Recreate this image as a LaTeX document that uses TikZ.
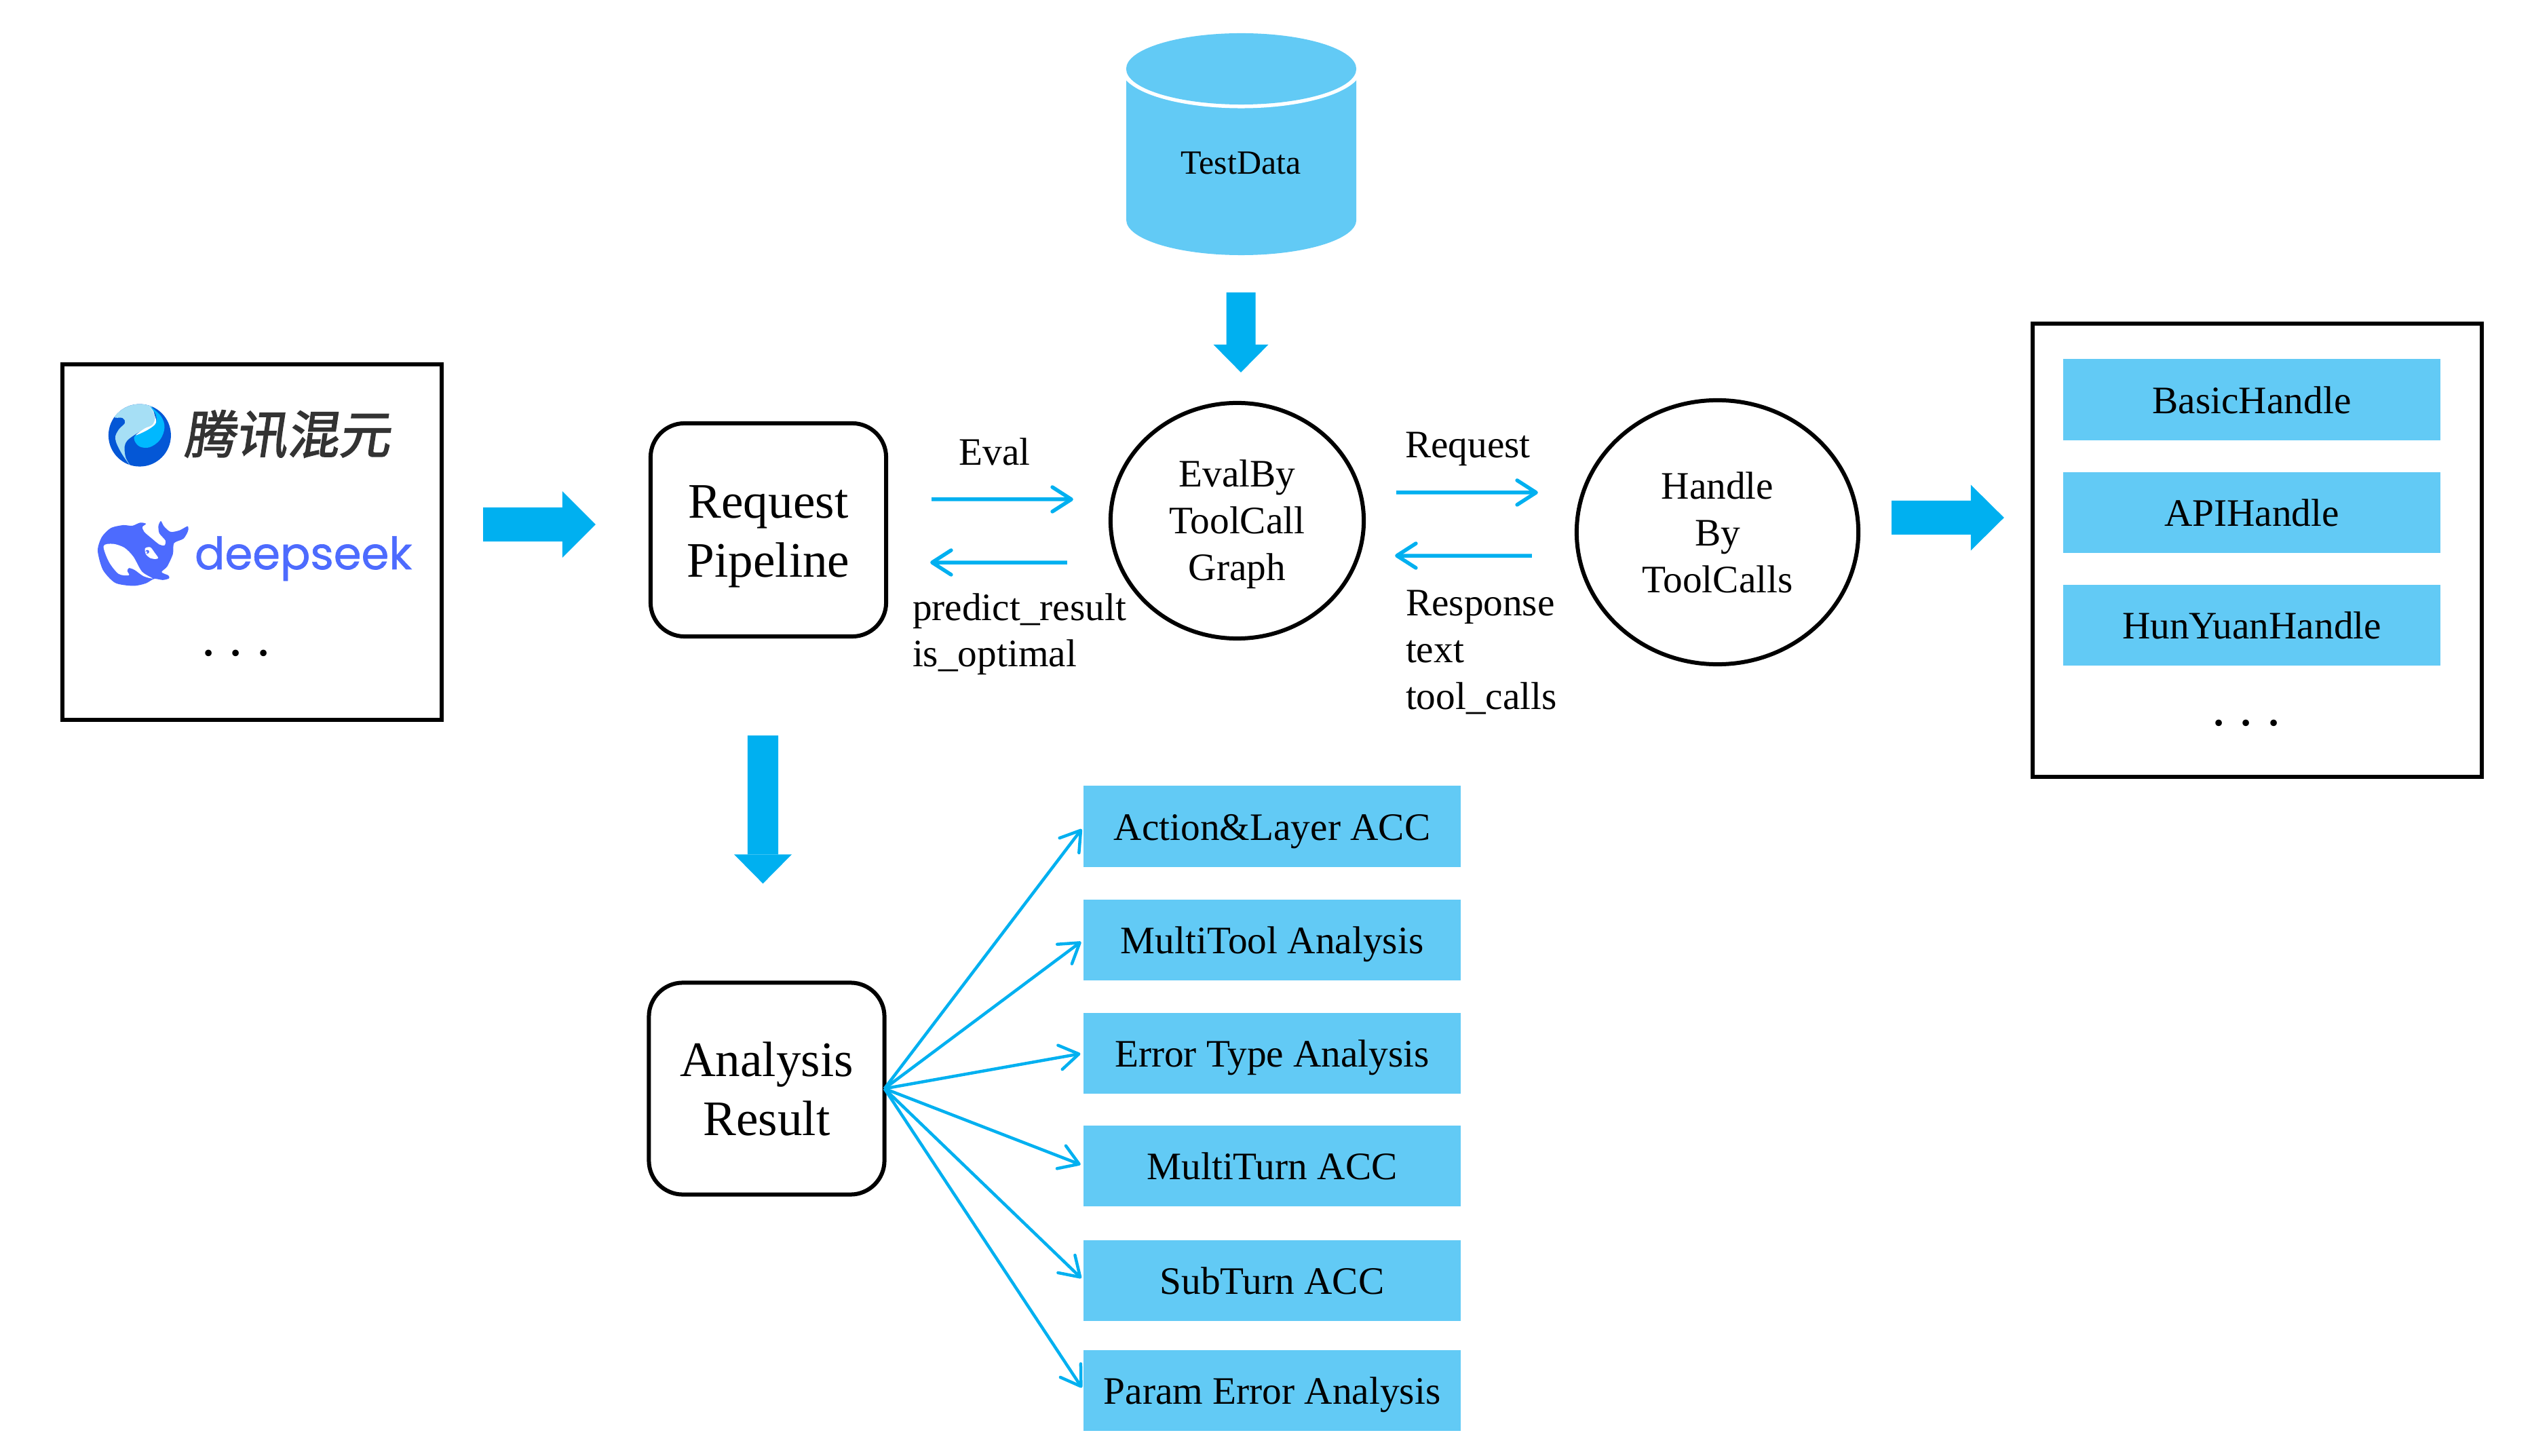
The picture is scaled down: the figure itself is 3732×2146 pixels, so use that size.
\documentclass[tikz,border=0pt]{standalone}
\usepackage{fontspec}
\usepackage{xcolor}
\setmainfont{Liberation Serif}
\newfontfamily\cjk[FakeSlant=0.15,FakeBold=2]{Noto Sans CJK SC}
\newfontfamily\logofont[FakeBold=1]{Poppins}
\usetikzlibrary{shapes.geometric, arrows.meta, positioning}
\definecolor{boxblue}{HTML}{62CAF5}
\definecolor{arrowblue}{HTML}{00B0F0}
\definecolor{seekblue}{HTML}{4D6BFE}

\begin{document}
\begin{tikzpicture}[
            x=0.01cm, y=-0.01cm,
            every node/.style={outer sep=0pt, inner sep=0pt},
            plain/.style={font=\fontsize{16.3}{19.6}\selectfont},
            big/.style={font=\fontsize{20.8}{24.75}\selectfont},
            frame/.style={rectangle, draw, line width=0.065cm, minimum width=5.59cm},
            proc/.style={rectangle, draw, line width=0.06cm, rounded corners=0.5cm, minimum width=3.47cm, align=center, big},
            roundnode/.style={ellipse, draw, line width=0.06cm, align=center, plain},
            handlebox/.style={rectangle, fill=boxblue, minimum width=5.55cm, minimum height=1.19cm, text height=0.51cm, text depth=0.11cm, plain},
            note/.style={anchor=base west, align=left, plain},
            dots/.style={anchor=base, font=\fontsize{23}{23}\selectfont\frenchspacing},
            thinarrow/.style={draw=arrowblue, line width=0.055cm, -{Straight Barb[length=0.28cm, width=0.36cm, round]}},
            fanarrow/.style={thinarrow, line width=0.045cm, shorten >=0.05cm},
            bigarrow/.style={draw=arrowblue, line width=#1}
        ]
        \useasboundingbox (0,0) rectangle (3732,2146);

        % Models
        \node[frame, minimum height=5.24cm] (models) at (371.5,799) {};
        \begin{scope}[shift={(150,590)}, x=0.00333cm, y=-0.00333cm]
            \fill[color={rgb,255:red,4;green,87;blue,214}] (168,155) circle (0.46cm);
            \begin{scope}
                \clip (168,155) circle (0.46cm);
                \fill[color={rgb,255:red,166;green,223;blue,245}] plot[smooth cycle, tension=0.6] coordinates {(55,72) (100,10) (205,15) (235,70) (225,110) (150,150) (105,190) (105,250) (130,295) (85,230) (60,170) (75,130) (103,100) (92,78)};
                \fill[color={rgb,255:red,0;green,184;blue,255}] plot[smooth cycle, tension=0.6] coordinates {(215,28) (262,70) (278,120) (258,175) (212,208) (168,205) (145,178) (150,155) (205,130) (240,100) (238,60)};
                \fill[white] plot[smooth cycle, tension=0.6] coordinates {(212,28) (232,62) (240,100) (205,130) (150,155) (190,125) (225,108) (235,72)};
            \end{scope}
        \end{scope}
        \node[anchor=center, text=black!80] (hunyuan) at (423,640) {\fontsize{21.6}{21.6}\cjk 腾讯混元};
        \begin{scope}[shift={(140,760)}, x=0.00333cm, y=-0.00333cm]
            \fill[seekblue] plot[smooth cycle, tension=0.45] coordinates {(12,155) (30,95) (70,55) (125,42) (165,45) (200,31) (226,36) (210,50) (218,72) (250,100) (285,128) (308,132) (312,110) (285,78) (281,45) (292,24) (306,48) (335,72) (375,65) (410,47) (412,68) (392,102) (350,122) (345,170) (320,225) (295,250) (325,265) (328,278) (300,285) (262,280) (225,300) (170,311) (90,298) (35,240)};
            \fill[white] plot[smooth cycle, tension=0.5] coordinates {(38,135) (80,125) (130,142) (170,182) (208,248) (255,278) (215,268) (175,240) (150,232) (143,245) (150,264) (105,258) (62,205)};
            \fill[white] plot[smooth cycle, tension=0.5] coordinates {(222,145) (245,140) (265,165) (280,187) (268,192) (245,188) (225,170)};
            \fill[seekblue] (232,160) circle (0.027cm);
            \fill[white] (228,162) circle (0.013cm);
        \end{scope}
        \node[anchor=base west, text=seekblue] (deepseek) at (287,839) {\fontsize{18.7}{18.7}\logofont deepseek};
        \node[dots] (moremodels) at (348,966) {. . .};

        % Pipeline
        \node[proc, minimum height=3.14cm] (pipe) at (1132.5,781) {\rule{0pt}{0.67cm}Request\\Pipeline};
        \node[proc, minimum height=3.12cm] (result) at (1130,1604.5) {Analysis\\Result};

        % Test data
        \fill[boxblue] (1660,101) -- (1660,324) arc [start angle=180, end angle=360, x radius=1.695cm, y radius=0.52cm] -- (1999,101) -- cycle;
        \fill[white] (1829.5,101.5) ellipse [x radius=1.77cm, y radius=0.58cm];
        \fill[boxblue] (1829.5,101.5) ellipse [x radius=1.695cm, y radius=0.525cm];
        \node[font=\fontsize{14.2}{14.2}\selectfont, anchor=base] (testdata) at (1829,257) {TestData};
        \coordinate (datafoot) at (1829,376);

        % Graph and handler
        \node[roundnode, minimum width=3.73cm, minimum height=3.47cm] (evalg) at (1823.5,767.5) {\rule{0pt}{0.51cm}EvalBy\\ToolCall\\Graph};
        \node[roundnode, minimum width=4.15cm, minimum height=3.89cm] (handle) at (2531.5,784.5) {Handle\\By\\ToolCalls};

        % Handlers
        \node[frame, minimum width=6.62cm, minimum height=6.68cm] (handlers) at (3327,811) {};
        \node[handlebox] (basic) at (3319,589) {BasicHandle};
        \node[handlebox, below=0.47cm of basic] (api) {APIHandle};
        \node[handlebox, below=0.47cm of api] (hunyuanh) {HunYuanHandle};
        \node[dots] (morehandlers) at (3311,1070) {. . .};

        % Analysis items
        \node[handlebox] (acc) at (1875,1218) {Action\&Layer ACC};
        \node[handlebox, below=0.48cm of acc] (multitool) {MultiTool Analysis};
        \node[handlebox, below=0.48cm of multitool] (errtype) {Error Type Analysis};
        \node[handlebox, below=0.47cm of errtype] (multiturn) {MultiTurn ACC};
        \node[handlebox, below=0.50cm of multiturn] (subturn) {SubTurn ACC};
        \node[handlebox, below=0.43cm of subturn] (paramerr) {Param Error Analysis};

        % Labels
        \node[anchor=base, plain] (evallabel) at (1466,686) {Eval};
        \node[note] (predictlabel) at (1345,983) {predict\_result\\is\_optimal};
        \node[note] (requestlabel) at (2071,675) {Request};
        \node[note] (responselabel) at (2072,1045) {Response\\text\\tool\_calls};

        % Connections
        \draw[thinarrow] ([xshift=0.67cm,yshift=0.45cm]pipe.east) -- ([xshift=-0.55cm,yshift=0.315cm]evalg.west);
        \draw[thinarrow] ([xshift=-0.64cm,yshift=-0.615cm]evalg.west) -- ([xshift=0.65cm,yshift=-0.48cm]pipe.east);
        \draw[thinarrow] ([xshift=0.48cm,yshift=0.415cm]evalg.east) -- ([xshift=-0.57cm,yshift=0.585cm]handle.west);
        \draw[thinarrow] ([xshift=-0.66cm,yshift=-0.345cm]handle.west) -- ([xshift=0.46cm,yshift=-0.515cm]evalg.east);
        \foreach \target in {acc, multitool, errtype, multiturn, subturn, paramerr}
            \draw[fanarrow] (result.east) -- (\target.west);

        % Block arrows
        \draw[bigarrow=0.5cm, -{Triangle[length=0.49cm, width=0.98cm, line width=0pt]}, shorten <=0.61cm, shorten >=0.81cm] ([yshift=0.26cm]models.east) -- ([yshift=0.08cm]pipe.west);
        \draw[bigarrow=0.5cm, -{Triangle[length=0.49cm, width=0.97cm, line width=0pt]}, shorten <=0.49cm, shorten >=0.42cm] ([yshift=0.215cm]handle.east) -- ([yshift=0.48cm]handlers.west);
        \draw[bigarrow=0.43cm, -{Triangle[length=0.41cm, width=0.81cm, line width=0pt]}, shorten <=0.55cm, shorten >=0.45cm] (datafoot) -- ([xshift=0.055cm]evalg.north);
        \draw[bigarrow=0.45cm, -{Triangle[length=0.43cm, width=0.85cm, line width=0pt]}, shorten <=1.46cm, shorten >=1.46cm] ([xshift=-0.08cm]pipe.south) -- ([xshift=-0.055cm]result.north);

    \end{tikzpicture}
\end{document}
